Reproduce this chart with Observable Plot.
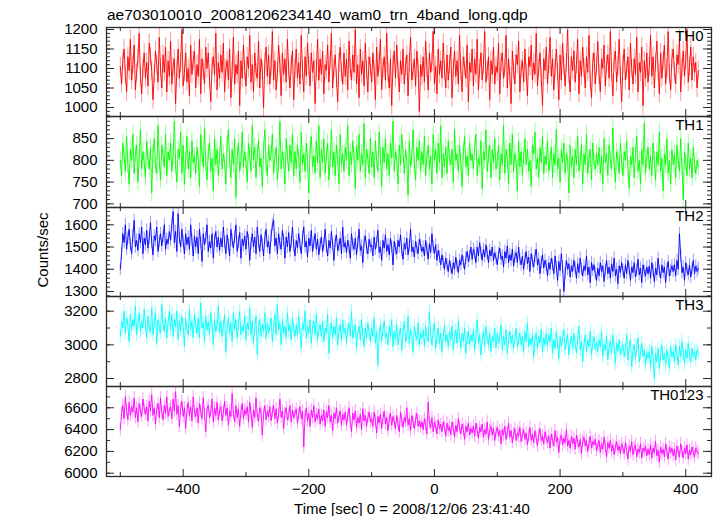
<!DOCTYPE html>
<html><head><meta charset="utf-8">
<script src="https://cdn.jsdelivr.net/npm/d3@7"></script>
<script src="https://cdn.jsdelivr.net/npm/@observablehq/plot@0.6"></script>
<style>
body{margin:0;background:#fff;}
#chart{position:relative;width:717px;height:516px;overflow:hidden;font-family:"Liberation Sans",Arial,Helvetica,sans-serif;color:#000;}
#title{position:absolute;left:107px;top:7px;font-size:15.5px;line-height:1;white-space:nowrap;}
#ylab{position:absolute;left:42px;top:250px;transform:translate(-50%,-50%) rotate(-90deg);font-size:15px;line-height:1;white-space:nowrap;}
#xlab{position:absolute;left:412px;top:508px;transform:translate(-50%,-50%);font-size:15px;line-height:1;white-space:nowrap;}
.panel{position:absolute;left:0;}
</style></head>
<body><div id="chart"><div id="title"></div><div id="ylab"></div><div id="xlab"></div></div>
<script>
const titleText = "ae703010010_20081206234140_wam0_trn_4band_long.qdp";
const yLabel = "Counts/sec";
const xLabel = "Time [sec] 0 = 2008/12/06 23:41:40";
const names = ["TH0", "TH1", "TH2", "TH3", "TH0123"];
const colors = ["#ff0000", "#00ff00", "#0000ff", "#00ffff", "#ff00ff"];
// time grid: first bin and bin width (s)
const T0 = -500, DT = 2;

const th0 = [
1105,1060,1120,1150,1085,1040,1130,1095,1175,1070,1110,1160,1045,1090,1125,1190,1080,1035,1100,1140,
1075,1115,1055,1165,1130,1095,1020,1085,1145,1110,1065,1180,1100,1050,1135,1090,1155,1040,1120,1080,
1170,1060,1105,1125,1010,1095,1150,1075,1115,1200,1055,1090,1140,1065,1100,1030,1160,1085,1120,1145,
1050,1110,1080,1175,1035,1125,1095,1060,1155,1100,1140,1070,1015,1105,1130,1085,1190,1045,1115,1075,
1135,1090,1165,1040,1100,1120,1070,1150,1025,1095,1180,1060,1110,1085,1145,1005,1120,1075,1160,1095,
1055,1130,1100,1185,1065,1110,1040,1140,1090,1075,1170,1050,1125,1095,1000,1115,1155,1080,1135,1060,
1105,1195,1070,1120,1045,1090,1160,1110,1030,1140,1085,1125,1065,1175,1095,1050,1110,1145,1020,1100,
1150,1075,1115,1060,1185,1095,1040,1130,1080,1165,1105,1055,1140,1090,1120,1010,1100,1175,1070,1125,
1085,1145,1035,1110,1095,1160,1065,1120,1190,1050,1100,1135,1075,1015,1115,1155,1090,1060,1140,1080,
1125,1045,1170,1100,1070,1135,1090,1200,1060,1110,1025,1150,1085,1120,1055,1165,1095,1040,1130,1105,
1065,1140,1095,1020,1155,1080,1115,1175,1045,1100,1130,1070,1190,1090,1050,1125,1005,1110,1145,1075,
1160,1095,1040,1120,1085,1150,1060,1105,1135,1030,1115,1180,1070,1095,1125,1055,1145,1100,990,1110,
1080,1130,1065,1170,1100,1045,1140,1090,1115,1195,1060,1105,1035,1150,1085,1120,1075,1165,1095,1050,
1135,1070,1110,1155,1025,1100,1145,1080,1120,1060,1185,1095,1040,1130,1105,1075,1160,1015,1115,1090,
1150,1055,1125,1085,1175,1045,1100,1140,1070,1110,1195,1065,1095,1130,1020,1120,1085,1155,1060,1105,
1090,1165,1035,1115,1140,1075,1100,1185,1050,1125,1080,1010,1145,1095,1060,1135,1110,1170,1040,1100,
1120,1065,1150,1090,1030,1130,1105,1160,1070,1115,1085,1190,1055,1100,1140,1075,1005,1125,1095,1155,
1060,1110,1180,1080,1125,1045,1100,1150,1090,1020,1135,1070,1165,1105,1055,1115,1200,1085,1040,1130,
1095,1145,1065,1110,1175,1035,1120,1080,1155,1100,1050,1130,1090,1185,1070,1025,1115,1140,1060,1105,
1170,1085,1040,1125,1100,1160,1055,1110,1135,1075,1195,1090,1030,1120,1145,1065,1105,1175,1080,1015,
1110,1150,1070,1095,1130,1045,1165,1100,1060,1125,1085,1180,1040,1115,1090,1155,1005,1120,1075,1140,
1065,1105,1185,1080,1130,1050,1115,1170,1095,1035,1140,1075,1120,1160,1060,1100,1195,1085,1045,1125,
1150,1090,1060,1135,1110,1175,1040,1100,1145,1080,1120,1200,1065,1105,1155,1070,1130,1090,1115,1050,
1095];

const th1 = [
800,765,840,810,775,855,790,745,825,800,860,770,815,835,750,805,870,780,820,795,
760,845,805,780,830,725,815,850,790,770,880,800,755,835,810,785,860,765,820,800,
840,775,810,890,790,750,825,805,865,770,835,745,800,855,780,820,760,845,795,810,
770,830,800,740,860,815,785,875,795,755,820,840,775,805,730,850,790,825,765,810,
855,780,815,795,745,835,870,800,760,825,790,850,715,810,840,775,800,865,785,820,
795,750,840,810,775,880,800,830,760,815,845,785,805,740,825,870,790,765,835,800,
815,860,770,805,830,755,795,890,780,820,800,745,850,810,775,835,795,860,765,820,
780,835,805,750,865,790,815,775,840,800,725,825,855,785,810,770,845,795,880,760,
825,795,850,770,810,840,755,800,870,785,820,765,835,805,745,860,790,815,775,830,
800,880,765,820,790,845,810,735,835,800,860,775,815,790,885,760,825,805,770,850,
785,820,760,845,800,775,865,810,740,830,795,850,780,815,765,840,805,890,775,820,
805,745,835,790,860,815,770,825,800,720,845,785,810,870,790,755,830,800,845,775,
820,790,855,765,805,835,780,810,745,860,800,825,770,840,795,880,760,815,785,830,
770,845,805,790,825,750,870,800,815,775,835,795,740,820,855,785,810,765,840,800,
815,780,830,860,765,805,790,845,735,820,800,870,775,810,835,760,825,795,850,780,
800,835,755,815,790,880,770,825,805,745,840,790,860,775,815,800,730,845,785,820,
765,810,850,790,825,775,800,740,835,815,865,780,805,760,830,795,855,770,810,790,
845,775,800,830,760,815,790,870,780,805,750,825,795,840,770,815,800,725,835,785,
810,760,825,790,855,775,800,835,745,815,790,860,770,805,825,755,840,795,780,815,
790,830,770,810,745,850,795,815,765,835,800,780,875,790,750,820,805,770,840,795,
765,820,800,845,780,735,810,790,830,760,815,855,775,800,745,825,790,885,770,805,
830,780,810,765,840,800,755,820,790,865,775,805,730,815,790,850,770,800,745,825,
790,815,760,835,800,775,850,785,710,820,795,765,840,780,805,760,830,790,770,800,
785];

const th2 = [
1400,1470,1560,1520,1600,1490,1540,1580,1510,1470,1550,1620,1500,1530,1485,1560,1520,1590,1470,1540,
1510,1575,1495,1540,1610,1520,1465,1550,1530,1590,1480,1525,1560,1505,1545,1600,1490,1535,1515,1570,
1530,1600,1660,1520,1570,1480,1650,1540,1500,1580,1525,1470,1560,1510,1545,1490,1600,1530,1460,1550,
1500,1545,1470,1580,1520,1435,1560,1510,1540,1600,1480,1525,1495,1560,1450,1530,1570,1500,1545,1485,
1540,1500,1590,1520,1470,1555,1510,1460,1580,1530,1495,1545,1600,1480,1520,1565,1450,1535,1505,1550,
1490,1570,1530,1440,1515,1560,1500,1545,1470,1590,1520,1480,1555,1510,1460,1540,1580,1500,1525,1470,
1550,1600,1620,1505,1540,1470,1560,1515,1490,1575,1530,1450,1545,1500,1565,1480,1520,1590,1505,1460,
1530,1495,1560,1510,1470,1545,1590,1500,1525,1455,1540,1505,1575,1480,1520,1560,1490,1535,1465,1510,
1545,1480,1515,1580,1500,1460,1530,1495,1570,1510,1440,1525,1555,1485,1505,1540,1470,1590,1500,1520,
1475,1530,1500,1450,1560,1510,1490,1540,1465,1520,1580,1485,1505,1430,1525,1550,1495,1470,1535,1500,
1510,1460,1545,1490,1520,1575,1475,1500,1440,1530,1495,1555,1480,1510,1465,1540,1500,1420,1525,1490,
1470,1530,1500,1555,1485,1445,1515,1490,1540,1465,1505,1580,1480,1500,1455,1525,1495,1470,1535,1510,
1480,1500,1460,1530,1490,1445,1515,1475,1560,1500,1470,1510,1440,1485,1455,1420,1465,1430,1400,1450,
1420,1390,1440,1410,1380,1430,1400,1455,1415,1385,1440,1420,1465,1430,1400,1450,1480,1435,1460,1500,
1445,1490,1470,1430,1500,1460,1520,1475,1440,1490,1455,1510,1470,1430,1485,1460,1500,1440,1475,1450,
1420,1470,1495,1445,1460,1410,1480,1450,1505,1430,1465,1440,1490,1415,1455,1475,1430,1500,1445,1420,
1460,1400,1445,1480,1425,1455,1390,1470,1435,1410,1460,1490,1420,1445,1380,1430,1465,1405,1440,1415,
1370,1430,1400,1450,1420,1380,1460,1410,1350,1435,1395,1470,1410,1300,1380,1440,1400,1425,1365,1415,
1390,1440,1405,1360,1425,1385,1450,1400,1370,1415,1395,1460,1375,1410,1340,1430,1395,1420,1380,1350,
1405,1370,1430,1390,1415,1345,1395,1440,1380,1410,1360,1425,1390,1450,1370,1400,1335,1415,1385,1430,
1395,1360,1420,1380,1440,1400,1350,1410,1385,1430,1365,1395,1445,1375,1405,1340,1420,1390,1370,1410,
1380,1415,1360,1430,1395,1345,1405,1375,1450,1390,1360,1420,1385,1410,1340,1400,1435,1370,1395,1415,
1390,1420,1370,1440,1400,1560,1460,1385,1410,1350,1430,1395,1375,1420,1365,1400,1440,1380,1415,1390,
1405];

const th3 = [
3050,3140,3100,3200,3070,3160,3120,3020,3180,3090,3150,3110,3230,3060,3130,3190,3080,3140,3100,3210,
3120,3040,3170,3100,3080,3220,3060,3130,3190,3010,3150,3100,3070,3240,3120,3080,3160,3040,3130,3200,
3090,3180,3050,3150,3110,3200,3030,3140,3080,3170,3120,2990,3160,3100,3060,3210,3090,3140,3040,3180,
3110,3070,3160,3040,3250,3100,3130,3020,3170,3090,3140,3060,3190,3110,3000,3150,3080,3120,3230,3070,
3140,3050,3110,3180,2960,3100,3160,3070,3130,3020,3190,3090,3150,3040,3120,3200,3060,3110,3080,3170,
3030,3130,3090,3220,3060,3140,3010,3110,3170,2940,3100,3150,3050,3120,3080,3190,3040,3130,3070,3110,
3160,3020,3100,3180,3060,3240,3090,3130,3000,3150,3070,3110,3040,3190,3080,3120,3030,3160,3090,3050,
3120,3060,3170,3080,2980,3130,3090,3200,3040,3110,3070,3150,3010,3100,3140,3060,3180,3030,3090,3120,
3050,3140,3020,3100,3070,3180,2950,3090,3130,3040,3110,3060,3160,3000,3080,3120,3030,3150,3070,3100,
3010,3090,3130,3050,3200,3040,3080,3120,2980,3070,3110,3030,3150,3060,2990,3100,3040,3130,3070,3020,
3100,3050,3160,3010,3080,2880,3060,3120,3020,3090,3140,3040,3070,3000,3110,3050,3150,2990,3080,3030,
3120,3000,3060,3100,2970,3080,3140,3020,3050,3170,3010,3090,3040,2960,3110,3060,3030,3130,3000,3070,
3040,3090,2990,3110,3050,3020,3200,3060,3000,3080,3130,2980,3040,3100,3010,3070,2960,3050,3120,3020,
3060,2990,3080,3030,3110,2970,3040,3090,3010,3140,3050,2980,3070,3020,3100,2950,3040,3080,3000,3060,
3020,3090,2970,3050,3150,3010,3060,2940,3030,3080,2990,3110,3040,3000,3070,2960,3050,3020,3100,2980,
3070,3010,3040,3120,2970,3050,3000,3090,2950,3030,3080,3010,3060,2980,3040,3100,2990,3030,3070,3000,
3050,2960,3080,3020,3130,2990,3040,3000,3060,2930,3030,3070,2980,3050,3010,3090,2960,3040,3000,3070,
2990,3060,3020,3100,2950,3030,2980,3080,3010,2920,3050,2990,3040,3090,2970,3020,3060,2940,3010,3050,
2980,3070,3010,2950,3040,3110,2970,3020,2900,3000,3060,2960,3030,2990,3080,2940,3010,3050,2970,3020,
2960,3030,2990,3080,2930,3000,2970,3050,2910,2990,3020,2950,3060,2980,2890,3010,2960,3030,2940,2980,
3000,2930,2970,3060,2910,2990,3030,2870,2960,3000,2920,2980,3040,2900,2950,3010,2930,2970,2880,2950,
2920,2960,2870,2990,2930,2800,2950,2900,2980,2860,2940,3000,2910,2950,2880,2970,2920,2860,2990,2930,
2960,2900,3000,2940,2880,2990,2930,3020,2950,2890,2970,2920,3010,2940,2900,2980,2930,2960,2910,2970,
2950];

const th0123 = [
6400,6550,6620,6500,6700,6580,6490,6650,6530,6610,6560,6690,6510,6600,6470,6640,6570,6520,6680,6590,
6540,6610,6480,6660,6570,6720,6530,6600,6450,6580,6640,6510,6690,6560,6490,6620,6550,6700,6520,6580,
6610,6500,6680,6570,6750,6540,6620,6430,6590,6660,6520,6600,6410,6570,6650,6530,6610,6480,6700,6560,
6520,6600,6460,6640,6570,6500,6690,6540,6380,6590,6620,6510,6560,6680,6470,6600,6530,6650,6490,6580,
6610,6480,6560,6660,6530,6600,6440,6570,6520,6730,6550,6470,6620,6510,6590,6430,6560,6640,6500,6580,
6540,6610,6470,6650,6550,6420,6580,6510,6690,6530,6480,6600,6560,6350,6540,6620,6490,6570,6520,6610,
6480,6560,6620,6500,6590,6460,6540,6680,6510,6570,6410,6550,6600,6490,6530,6620,6470,6580,6510,6550,
6590,6460,6540,6610,6500,6570,6240,6520,6600,6480,6550,6430,6580,6510,6620,6470,6540,6500,6590,6450,
6530,6480,6580,6430,6560,6510,6620,6470,6530,6390,6550,6500,6600,6460,6520,6570,6440,6540,6490,6560,
6440,6520,6600,6470,6380,6550,6490,6570,6420,6510,6460,6540,6400,6590,6480,6530,6430,6510,6560,6470,
6500,6430,6560,6480,6370,6520,6460,6540,6410,6500,6570,6450,6510,6390,6490,6550,6440,6520,6470,6410,
6530,6450,6380,6560,6480,6420,6510,6470,6600,6440,6500,6390,6530,6460,6410,6490,6550,6430,6480,6420,
6470,6400,6500,6440,6360,6650,6460,6420,6510,6380,6470,6430,6360,6490,6410,6450,6380,6470,6420,6340,
6460,6390,6430,6350,6470,6410,6330,6440,6380,6500,6420,6360,6450,6400,6310,6430,6380,6460,6350,6410,
6370,6430,6340,6460,6390,6320,6420,6380,6450,6330,6400,6360,6470,6310,6390,6430,6350,6410,6300,6380,
6420,6340,6390,6270,6400,6350,6430,6310,6370,6460,6330,6390,6280,6360,6410,6300,6370,6340,6420,6290,
6350,6400,6310,6370,6260,6340,6420,6300,6360,6280,6390,6320,6250,6350,6410,6300,6340,6270,6380,6320,
6280,6340,6230,6360,6300,6250,6390,6290,6330,6190,6310,6350,6260,6320,6280,6400,6250,6300,6230,6340,
6270,6320,6220,6350,6280,6240,6310,6180,6290,6330,6250,6300,6200,6270,6340,6230,6290,6260,6310,6210,
6250,6300,6190,6270,6220,6330,6240,6150,6280,6230,6300,6200,6260,6170,6240,6290,6210,6250,6180,6270,
6230,6180,6280,6210,6130,6250,6200,6290,6170,6230,6260,6150,6220,6190,6270,6140,6230,6200,6250,6160,
6220,6170,6260,6140,6230,6190,6290,6160,6210,6100,6240,6180,6220,6150,6270,6200,6130,6240,6190,6230,
6160,6220,6120,6250,6190,6150,6270,6200,6140,6230,6180,6260,6130,6210,6170,6240,6190,6150,6230,6200,
6180];

const series = [th0, th1, th2, th3, th0123];
const errors = [24, 20, 28, 40, 58];
const yDomains = [[976.9, 1205.1], [691.6, 900.9], [1277.5, 1677.8], [2752.5, 3287.4], [5970, 6795]];
const yTickLabels = [
  [1000, 1050, 1100, 1150, 1200],
  [700, 750, 800, 850],
  [1300, 1400, 1500, 1600],
  [2800, 3000, 3200],
  [6000, 6200, 6400, 6600]];
const yMinorStep = [10, 10, 20, 100, 100];
const xTickLabels = [-400, -200, 0, 200, 400];
const xMinorTicks = [-500, -300, -100, 100, 300];
const xDomain = [-522, 441];

// layout
const W = 717, ML = 106, MR = 6;
const panelTops = [27, 116, 207, 296, 386];
const panelHeights = [89, 91, 89, 90, 90];
const fmt = d3.format("d");
const axisColor = "#2a2a2a";

document.getElementById("title").textContent = titleText;
document.getElementById("ylab").textContent = yLabel;
document.getElementById("xlab").textContent = xLabel;
const chart = document.getElementById("chart");

series.forEach((vals, k) => {
  const data = vals.map((v, i) => ({t: T0 + i * DT, v, lo: v - errors[k], hi: v + errors[k]}));
  const [y0, y1] = yDomains[k];
  const H = panelHeights[k];
  const iw = W - ML - MR, ih = H;
  const step = yMinorStep[k];
  const minors = d3.range(Math.ceil(y0 / step) * step, y1, step);
  const marks = [
    Plot.ruleX(data, {x: "t", y1: "lo", y2: "hi", stroke: colors[k], strokeOpacity: 0.4, strokeWidth: 1, clip: true}),
    Plot.line(data, {x: "t", y: "v", stroke: colors[k], strokeWidth: 0.9, clip: true}),
    Plot.tickY(minors, {y: d => d, insetRight: iw - 4, stroke: axisColor}),
    Plot.tickY(minors, {y: d => d, insetLeft: iw - 4, stroke: axisColor}),
    Plot.tickY(yTickLabels[k], {y: d => d, insetRight: iw - 8, stroke: axisColor}),
    Plot.tickY(yTickLabels[k], {y: d => d, insetLeft: iw - 8, stroke: axisColor}),
    Plot.tickX(xMinorTicks, {x: d => d, insetBottom: ih - 4, stroke: axisColor}),
    Plot.tickX(xMinorTicks, {x: d => d, insetTop: ih - 4, stroke: axisColor}),
    Plot.tickX(xTickLabels, {x: d => d, insetBottom: ih - 7, stroke: axisColor}),
    Plot.tickX(xTickLabels, {x: d => d, insetTop: ih - 7, stroke: axisColor}),
    Plot.axisY(yTickLabels[k], {tickSize: 0, tickPadding: 9, fontSize: 15, tickFormat: fmt, label: null}),
    Plot.frame({stroke: axisColor, strokeWidth: 1.3}),
    Plot.text([names[k]], {frameAnchor: "top-right", dx: -8, dy: 3, lineAnchor: "top", textAnchor: "end", fontSize: 15, fill: "#000"})
  ];
  if (k === series.length - 1) {
    marks.push(Plot.axisX(xTickLabels, {tickSize: 0, tickPadding: 7, fontSize: 15, tickFormat: fmt, label: null}));
  }
  const svg = Plot.plot({
    width: W, height: H,
    marginTop: 0, marginBottom: 0, marginLeft: ML, marginRight: MR,
    x: {domain: xDomain, axis: k === series.length - 1 ? undefined : null},
    y: {domain: [y0, y1]},
    style: {overflow: "visible", fontFamily: "'Liberation Sans', Arial, Helvetica, sans-serif", fontSize: "15px", background: "transparent", color: "#000"},
    marks
  });
  svg.classList.add("panel");
  svg.style.top = panelTops[k] + "px";
  svg.style.position = "absolute";
  chart.appendChild(svg);
});
</script>
</body></html>
